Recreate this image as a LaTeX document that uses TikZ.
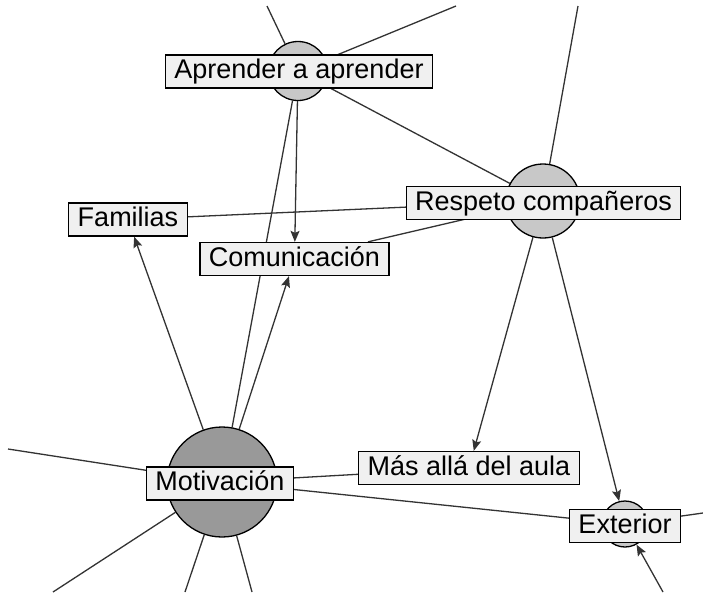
\documentclass[tikz,border=0pt]{standalone}
\usepackage{fontspec}
\setmainfont{Liberation Sans}
\usetikzlibrary{arrows.meta}
\usetikzlibrary{backgrounds}
\definecolor{boxfill}{HTML}{F0F0F0}
\definecolor{ballfill}{HTML}{C8C8C8}
\definecolor{bigball}{HTML}{999999}
\definecolor{linegray}{HTML}{333333}
\tikzset{
ball/.style={ % circle behind a concept
circle, draw, line width=1.3pt,
fill=ballfill, inner sep=0pt},
concept/.style={ % label box of a concept
draw, line width=1.3pt, fill=boxfill,
font=\fontsize{27}{30}\selectfont,
text height=20pt, text depth=6pt,
inner xsep=9pt, inner ysep=3.5pt},
every edge/.style={ % plain links between concepts
draw, linegray, line width=1.3pt},
link/.style={-{Stealth[length=11pt,width=9pt,inset=2pt]}}}

\begin{document}
\begin{tikzpicture}[x=1pt,y=-1pt]
\useasboundingbox (0,0) rectangle (703,592);
% circles
\node[ball, minimum size=59pt] (aprc) at (298,71) {};
\node[ball, minimum size=74pt] (resc) at (543,201) {};
\node[ball, minimum size=110pt, fill=bigball] (motc) at (222,482) {};
\node[ball, minimum size=46pt] (extc) at (625,524) {};
% labels
\node[concept] (apr) at (299,71.5) {Aprender a aprender};
\node[concept] (res) at (543.5,203) {Respeto compañeros};
\node[concept] (fam) at (128,219.5) {Familias};
\node[concept] (com) at (294.5,259) {Comunicación};
\node[concept] (mot) at (220,483.5) {Motivación};
\node[concept] (mas) at (469,468) {Más allá del aula};
\node[concept] (ext) at (625,526) {Exterior};
% loose ends
\coordinate (aprtop) at (267,6);
\coordinate (aprne) at (456,6);
\coordinate (restop) at (578,6);
\coordinate (motw) at (8,449);
\coordinate (motsw) at (53,592);
\coordinate (mots1) at (185,592);
\coordinate (mots2) at (252,592);
\coordinate (exte) at (703,513);
\coordinate (extse) at (663,592);
\begin{scope}[on background layer]
\fill[white] (0,0) rectangle (703,592);
\draw (aprtop) edge (aprc) (aprne) edge (aprc)
      (aprc) edge (resc) (restop) edge (resc)
      (aprc) edge (motc) (fam) edge (resc) (com) edge (resc)
      (motw) edge (motc) (motsw) edge (motc)
      (mots1) edge (motc) (mots2) edge (motc)
      (motc) edge (mas) (motc) edge (extc) (exte) edge (extc);
\draw (aprc) edge[link] (com)
      (motc) edge[link] (com)
      (motc) edge[link] (fam)
      (resc) edge[link] (mas)
      (resc) edge[link] (extc)
      (extse) edge[link] (extc);
\end{scope}
\end{tikzpicture}
\end{document}
